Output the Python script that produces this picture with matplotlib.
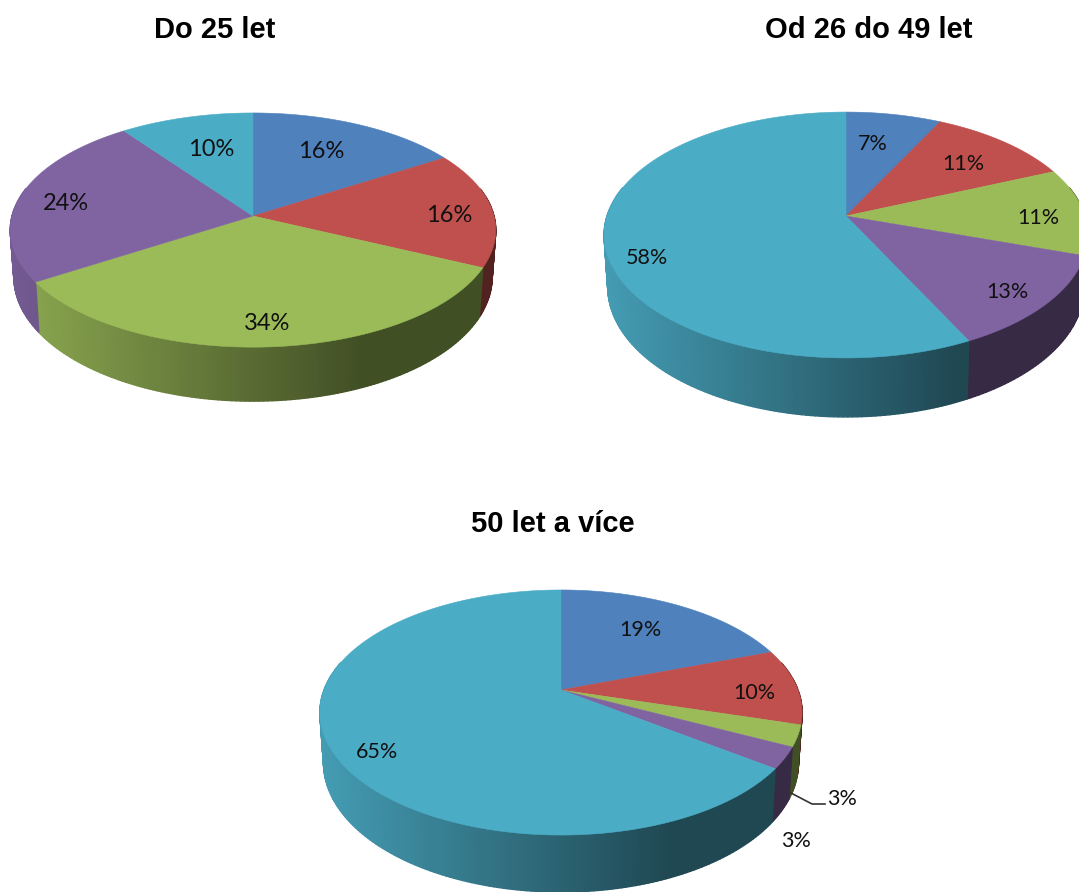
import numpy as np
import matplotlib
matplotlib.use("Agg")
import matplotlib.pyplot as plt
from matplotlib.collections import PolyCollection
from matplotlib.colors import to_rgb
from matplotlib.patches import Polygon

# data
titles = ["Do 25 let", "Od 26 do 49 let", "50 let a více"]
values_young = [16, 16, 34, 24, 10]
values_middle = [7.4, 11.2, 11.5, 12.6, 57.3]
values_old = [19.5, 10, 2.8, 2.8, 64.9]
labels_young = ["16%", "16%", "34%", "24%", "10%"]
labels_middle = ["7%", "11%", "11%", "13%", "58%"]
labels_old = ["19%", "10%", "3%", "3%", "65%"]
colors = ["#4F81BD", "#C0504D", "#9BBB59", "#8064A2", "#4BACC6"]

# layout (pixels): centre, perspective, extrusion
W, H = 1079, 892
pies = [
    dict(vals=values_young, labs=labels_young, cx=253, cy=216, a=241, b=115.4, k=0.12, D=54,
         pos=[(321, 152), (449, 216), (267, 324), (66, 204), (211, 150)], fs=17, title=(215, 30)),
    dict(vals=values_middle, labs=labels_middle, cx=846, cy=216, a=239, b=120, k=0.1545, D=59,
         pos=[(873, 144), (963, 164), (1038, 218), (1007, 292), (647, 258)], fs=15.5, title=(869, 30)),
    dict(vals=values_old, labs=labels_old, cx=561, cy=690, a=237, b=118.4, k=0.1837, D=57,
         pos=[(640, 630), (754, 693), (842, 799), (796, 841), (377, 752)], fs=15.5, title=(553, 524)),
]
leader_x = [791, 812, 825]
leader_y = [793, 804, 804]

fig = plt.figure(figsize=(W / 100, H / 100), dpi=100)
ax = fig.add_axes([0, 0, 1, 1])
ax.set_xlim(0, W)
ax.set_ylim(H, 0)
ax.axis("off")


def project(p, t, bottom=False):
    """t: clockwise angle from top (radians); returns pixel coords."""
    u, v = np.sin(t), np.cos(t)
    w = 1 + p["k"] * v
    x = p["a"] * u / w
    y = p["cy"] - p["b"] * v / w
    if bottom:
        x = x * 0.985
        y = y + p["D"] * (1 + 0.15 * (-v - 1))
    return p["cx"] + x, y


def shade(frac):
    return np.clip(0.9 - 0.66 * frac, 0.42, 0.9)


for n, p in enumerate(pies):
    fractions = np.array(p["vals"], dtype=float)
    edges = np.concatenate([[0], np.cumsum(fractions) / fractions.sum()]) * 2 * np.pi
    # walls
    for i, col in enumerate(colors):
        ts = np.linspace(edges[i], edges[i + 1], max(3, int((edges[i + 1] - edges[i]) * 60)))
        ts = ts[np.cos(ts) < 0.25]
        if len(ts) < 2:
            continue
        xt, yt = project(p, ts)
        xb, yb = project(p, ts, bottom=True)
        quads, cols = [], []
        rgb = np.array(to_rgb(col))
        for j in range(len(ts) - 1):
            quads.append([(xt[j], yt[j]), (xt[j + 1], yt[j + 1]), (xb[j + 1], yb[j + 1]), (xb[j], yb[j])])
            frac = ((xt[j] + xt[j + 1]) / 2 - (p["cx"] - p["a"])) / (2 * p["a"])
            cols.append(tuple(rgb * shade(frac)))
        ax.add_collection(PolyCollection(quads, facecolors=cols, edgecolors=cols, linewidths=1.0, zorder=2))
    # tops
    for i, col in enumerate(colors):
        ts = np.linspace(edges[i], edges[i + 1], 200)
        xt, yt = project(p, ts)
        pts = np.column_stack([np.r_[p["cx"], xt], np.r_[p["cy"], yt]])
        ax.add_patch(Polygon(pts, closed=True, facecolor=col, edgecolor=col, linewidth=0.4, zorder=3))
    # labels
    for lab, (x, y) in zip(p["labs"], p["pos"]):
        ax.text(x, y, lab, ha="center", va="center", fontsize=p["fs"], family="Lato", color="#111111", zorder=5)
    ax.text(p["title"][0], p["title"][1], titles[n], ha="center", va="center",
            fontsize=21, fontweight="bold", family="Liberation Sans", color="black", zorder=5)

# leader line for the small slice in the third pie
ax.plot(leader_x, leader_y, color="#333333", lw=1.2, zorder=4, solid_joinstyle="miter")

fig.savefig("out.png", dpi=100)
